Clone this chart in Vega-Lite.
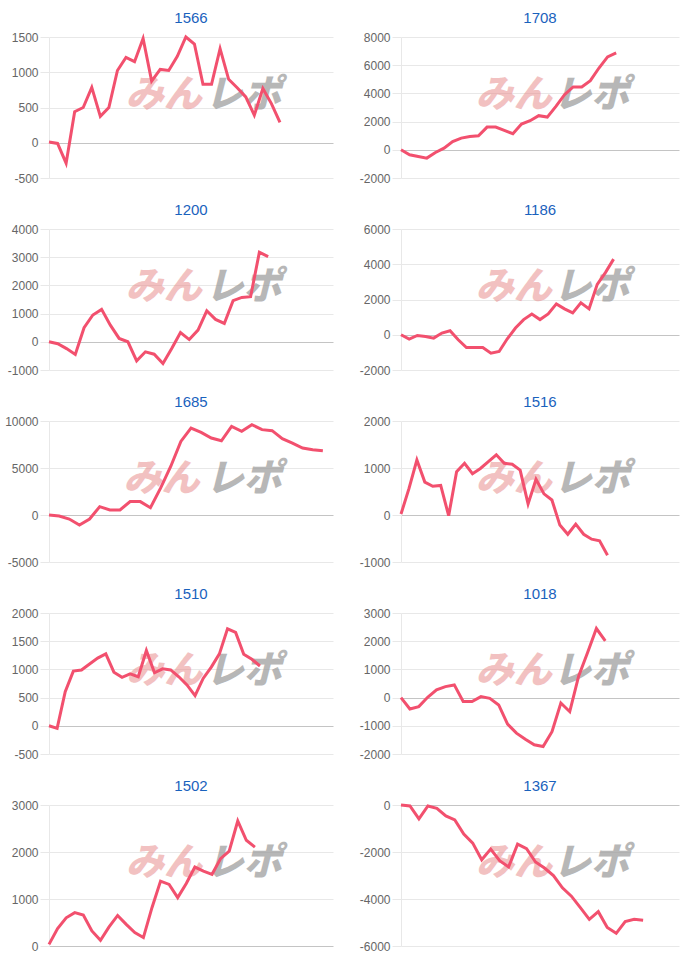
{
  "$schema": "https://vega.github.io/schema/vega-lite/v6.json",
  "padding": {"left": 4, "top": 11, "right": 12, "bottom": 4},
  "background": "white",
  "config": {
    "view": {"stroke": null},
    "font": "Liberation Sans",
    "title": {"fontSize": 15, "fontWeight": "normal", "color": "#1a62bd", "font": "Liberation Sans", "anchor": "middle", "frame": "group", "offset": 5},
    "axisY": {
      "domainColor": "#e8e8e8",
      "gridColor": {"condition": {"test": "datum.value === 0", "value": "#c4c4c4"}, "value": "#e8e8e8"},
      "tickColor": "#e8e8e8", "tickSize": 9, "labelPadding": 2,
      "labelColor": "#666666", "labelFontSize": 12, "labelFont": "Liberation Sans",
      "labelExpr": "'' + datum.value",
      "minExtent": 40, "maxExtent": 40, "title": null
    }
  },
  "datasets": {
    "d": [
      {"c":"1566","i":0,"v":10},{"c":"1566","i":1,"v":-10},{"c":"1566","i":2,"v":-290},{"c":"1566","i":3,"v":440},{"c":"1566","i":4,"v":500},{"c":"1566","i":5,"v":785},{"c":"1566","i":6,"v":375},{"c":"1566","i":7,"v":500},{"c":"1566","i":8,"v":1025},{"c":"1566","i":9,"v":1210},{"c":"1566","i":10,"v":1150},{"c":"1566","i":11,"v":1480},{"c":"1566","i":12,"v":875},{"c":"1566","i":13,"v":1040},{"c":"1566","i":14,"v":1025},{"c":"1566","i":15,"v":1225},{"c":"1566","i":16,"v":1500},{"c":"1566","i":17,"v":1400},{"c":"1566","i":18,"v":830},{"c":"1566","i":19,"v":830},{"c":"1566","i":20,"v":1335},{"c":"1566","i":21,"v":900},{"c":"1566","i":22,"v":780},{"c":"1566","i":23,"v":650},{"c":"1566","i":24,"v":390},{"c":"1566","i":25,"v":770},{"c":"1566","i":26,"v":555},{"c":"1566","i":27,"v":290},
      {"c":"1708","i":0,"v":0},{"c":"1708","i":1,"v":-355},{"c":"1708","i":2,"v":-475},{"c":"1708","i":3,"v":-590},{"c":"1708","i":4,"v":-190},{"c":"1708","i":5,"v":120},{"c":"1708","i":6,"v":590},{"c":"1708","i":7,"v":830},{"c":"1708","i":8,"v":950},{"c":"1708","i":9,"v":1000},{"c":"1708","i":10,"v":1610},{"c":"1708","i":11,"v":1610},{"c":"1708","i":12,"v":1375},{"c":"1708","i":13,"v":1140},{"c":"1708","i":14,"v":1825},{"c":"1708","i":15,"v":2060},{"c":"1708","i":16,"v":2420},{"c":"1708","i":17,"v":2320},{"c":"1708","i":18,"v":3080},{"c":"1708","i":19,"v":3910},{"c":"1708","i":20,"v":4455},{"c":"1708","i":21,"v":4455},{"c":"1708","i":22,"v":4900},{"c":"1708","i":23,"v":5800},{"c":"1708","i":24,"v":6590},{"c":"1708","i":25,"v":6870},
      {"c":"1200","i":0,"v":0},{"c":"1200","i":1,"v":-70},{"c":"1200","i":2,"v":-240},{"c":"1200","i":3,"v":-450},{"c":"1200","i":4,"v":500},{"c":"1200","i":5,"v":950},{"c":"1200","i":6,"v":1150},{"c":"1200","i":7,"v":590},{"c":"1200","i":8,"v":120},{"c":"1200","i":9,"v":0},{"c":"1200","i":10,"v":-675},{"c":"1200","i":11,"v":-355},{"c":"1200","i":12,"v":-440},{"c":"1200","i":13,"v":-770},{"c":"1200","i":14,"v":-240},{"c":"1200","i":15,"v":330},{"c":"1200","i":16,"v":80},{"c":"1200","i":17,"v":415},{"c":"1200","i":18,"v":1100},{"c":"1200","i":19,"v":795},{"c":"1200","i":20,"v":650},{"c":"1200","i":21,"v":1460},{"c":"1200","i":22,"v":1575},{"c":"1200","i":23,"v":1600},{"c":"1200","i":24,"v":3175},{"c":"1200","i":25,"v":3020},
      {"c":"1186","i":0,"v":0},{"c":"1186","i":1,"v":-250},{"c":"1186","i":2,"v":-40},{"c":"1186","i":3,"v":-95},{"c":"1186","i":4,"v":-190},{"c":"1186","i":5,"v":95},{"c":"1186","i":6,"v":230},{"c":"1186","i":7,"v":-285},{"c":"1186","i":8,"v":-725},{"c":"1186","i":9,"v":-725},{"c":"1186","i":10,"v":-725},{"c":"1186","i":11,"v":-1050},{"c":"1186","i":12,"v":-950},{"c":"1186","i":13,"v":-230},{"c":"1186","i":14,"v":380},{"c":"1186","i":15,"v":860},{"c":"1186","i":16,"v":1180},{"c":"1186","i":17,"v":860},{"c":"1186","i":18,"v":1180},{"c":"1186","i":19,"v":1750},{"c":"1186","i":20,"v":1470},{"c":"1186","i":21,"v":1240},{"c":"1186","i":22,"v":1810},{"c":"1186","i":23,"v":1470},{"c":"1186","i":24,"v":2860},{"c":"1186","i":25,"v":3525},{"c":"1186","i":26,"v":4290},
      {"c":"1685","i":0,"v":0},{"c":"1685","i":1,"v":-110},{"c":"1685","i":2,"v":-430},{"c":"1685","i":3,"v":-1070},{"c":"1685","i":4,"v":-430},{"c":"1685","i":5,"v":890},{"c":"1685","i":6,"v":535},{"c":"1685","i":7,"v":535},{"c":"1685","i":8,"v":1425},{"c":"1685","i":9,"v":1425},{"c":"1685","i":10,"v":780},{"c":"1685","i":11,"v":2850},{"c":"1685","i":12,"v":5160},{"c":"1685","i":13,"v":7830},{"c":"1685","i":14,"v":9250},{"c":"1685","i":15,"v":8790},{"c":"1685","i":16,"v":8190},{"c":"1685","i":17,"v":7900},{"c":"1685","i":18,"v":9430},{"c":"1685","i":19,"v":8900},{"c":"1685","i":20,"v":9610},{"c":"1685","i":21,"v":9080},{"c":"1685","i":22,"v":8970},{"c":"1685","i":23,"v":8120},{"c":"1685","i":24,"v":7650},{"c":"1685","i":25,"v":7120},{"c":"1685","i":26,"v":6940},{"c":"1685","i":27,"v":6830},
      {"c":"1516","i":0,"v":20},{"c":"1516","i":1,"v":560},{"c":"1516","i":2,"v":1170},{"c":"1516","i":3,"v":700},{"c":"1516","i":4,"v":610},{"c":"1516","i":5,"v":630},{"c":"1516","i":6,"v":-15},{"c":"1516","i":7,"v":920},{"c":"1516","i":8,"v":1100},{"c":"1516","i":9,"v":880},{"c":"1516","i":10,"v":990},{"c":"1516","i":11,"v":1135},{"c":"1516","i":12,"v":1280},{"c":"1516","i":13,"v":1100},{"c":"1516","i":14,"v":1080},{"c":"1516","i":15,"v":955},{"c":"1516","i":16,"v":235},{"c":"1516","i":17,"v":760},{"c":"1516","i":18,"v":450},{"c":"1516","i":19,"v":320},{"c":"1516","i":20,"v":-215},{"c":"1516","i":21,"v":-410},{"c":"1516","i":22,"v":-195},{"c":"1516","i":23,"v":-410},{"c":"1516","i":24,"v":-515},{"c":"1516","i":25,"v":-550},{"c":"1516","i":26,"v":-855},
      {"c":"1510","i":0,"v":0},{"c":"1510","i":1,"v":-45},{"c":"1510","i":2,"v":605},{"c":"1510","i":3,"v":970},{"c":"1510","i":4,"v":990},{"c":"1510","i":5,"v":1095},{"c":"1510","i":6,"v":1200},{"c":"1510","i":7,"v":1275},{"c":"1510","i":8,"v":950},{"c":"1510","i":9,"v":860},{"c":"1510","i":10,"v":920},{"c":"1510","i":11,"v":870},{"c":"1510","i":12,"v":1335},{"c":"1510","i":13,"v":940},{"c":"1510","i":14,"v":1010},{"c":"1510","i":15,"v":990},{"c":"1510","i":16,"v":870},{"c":"1510","i":17,"v":725},{"c":"1510","i":18,"v":535},{"c":"1510","i":19,"v":840},{"c":"1510","i":20,"v":1040},{"c":"1510","i":21,"v":1275},{"c":"1510","i":22,"v":1720},{"c":"1510","i":23,"v":1655},{"c":"1510","i":24,"v":1270},{"c":"1510","i":25,"v":1180},{"c":"1510","i":26,"v":1060},
      {"c":"1018","i":0,"v":0},{"c":"1018","i":1,"v":-405},{"c":"1018","i":2,"v":-320},{"c":"1018","i":3,"v":10},{"c":"1018","i":4,"v":275},{"c":"1018","i":5,"v":390},{"c":"1018","i":6,"v":450},{"c":"1018","i":7,"v":-140},{"c":"1018","i":8,"v":-140},{"c":"1018","i":9,"v":35},{"c":"1018","i":10,"v":-25},{"c":"1018","i":11,"v":-260},{"c":"1018","i":12,"v":-940},{"c":"1018","i":13,"v":-1260},{"c":"1018","i":14,"v":-1475},{"c":"1018","i":15,"v":-1675},{"c":"1018","i":16,"v":-1735},{"c":"1018","i":17,"v":-1210},{"c":"1018","i":18,"v":-190},{"c":"1018","i":19,"v":-500},{"c":"1018","i":20,"v":760},{"c":"1018","i":21,"v":1590},{"c":"1018","i":22,"v":2450},{"c":"1018","i":23,"v":2010},
      {"c":"1502","i":0,"v":35},{"c":"1502","i":1,"v":370},{"c":"1502","i":2,"v":600},{"c":"1502","i":3,"v":710},{"c":"1502","i":4,"v":660},{"c":"1502","i":5,"v":320},{"c":"1502","i":6,"v":120},{"c":"1502","i":7,"v":405},{"c":"1502","i":8,"v":650},{"c":"1502","i":9,"v":460},{"c":"1502","i":10,"v":285},{"c":"1502","i":11,"v":180},{"c":"1502","i":12,"v":815},{"c":"1502","i":13,"v":1380},{"c":"1502","i":14,"v":1310},{"c":"1502","i":15,"v":1030},{"c":"1502","i":16,"v":1330},{"c":"1502","i":17,"v":1680},{"c":"1502","i":18,"v":1595},{"c":"1502","i":19,"v":1525},{"c":"1502","i":20,"v":1860},{"c":"1502","i":21,"v":2020},{"c":"1502","i":22,"v":2660},{"c":"1502","i":23,"v":2250},{"c":"1502","i":24,"v":2105},
      {"c":"1367","i":0,"v":0},{"c":"1367","i":1,"v":-40},{"c":"1367","i":2,"v":-590},{"c":"1367","i":3,"v":-40},{"c":"1367","i":4,"v":-140},{"c":"1367","i":5,"v":-465},{"c":"1367","i":6,"v":-635},{"c":"1367","i":7,"v":-1240},{"c":"1367","i":8,"v":-1620},{"c":"1367","i":9,"v":-2330},{"c":"1367","i":10,"v":-1875},{"c":"1367","i":11,"v":-2370},{"c":"1367","i":12,"v":-2635},{"c":"1367","i":13,"v":-1665},{"c":"1367","i":14,"v":-1860},{"c":"1367","i":15,"v":-2425},{"c":"1367","i":16,"v":-2680},{"c":"1367","i":17,"v":-3000},{"c":"1367","i":18,"v":-3525},{"c":"1367","i":19,"v":-3880},{"c":"1367","i":20,"v":-4370},{"c":"1367","i":21,"v":-4865},{"c":"1367","i":22,"v":-4540},{"c":"1367","i":23,"v":-5215},{"c":"1367","i":24,"v":-5460},{"c":"1367","i":25,"v":-4960},{"c":"1367","i":26,"v":-4865},{"c":"1367","i":27,"v":-4905}
    ]
  },
  "data": {"name": "d"},
  "spacing": 19,
  "vconcat": [
    {"hconcat": [
      {"title": "1566", "width": 284, "height": 141, "transform": [{"filter": "datum.c == '1566'"}],
       "encoding": {"x": {"field": "i", "type": "quantitative", "axis": null, "scale": {"domain": [0, 33.2], "nice": false, "zero": false}},
                    "y": {"field": "v", "type": "quantitative", "scale": {"domain": [-500, 1500], "nice": false}, "axis": {"values": [-500, 0, 500, 1000, 1500]}}},
       "layer": [
         {"transform": [{"filter": "datum.i == 0"}], "mark": {"type": "text", "text": "みん", "font": "Noto Sans CJK JP", "fontSize": 38, "fontWeight": 900, "fontStyle": "italic", "color": "#e88f8f", "opacity": 0.55, "align": "center", "baseline": "middle"}, "encoding": {"x": {"datum": 13.4, "type": "quantitative"}, "y": {"datum": 660, "type": "quantitative"}}},
         {"transform": [{"filter": "datum.i == 0"}], "mark": {"type": "text", "text": "レポ", "font": "Noto Sans CJK JP", "fontSize": 38, "fontWeight": 900, "fontStyle": "italic", "color": "#999999", "opacity": 0.7, "align": "center", "baseline": "middle"}, "encoding": {"x": {"datum": 22.7, "type": "quantitative"}, "y": {"datum": 660, "type": "quantitative"}}},
         {"mark": {"type": "line", "color": "#f2506e", "strokeWidth": 3, "strokeJoin": "miter"}}
       ]},
      {"title": "1708", "width": 278, "height": 141, "transform": [{"filter": "datum.c == '1708'"}],
       "encoding": {"x": {"field": "i", "type": "quantitative", "axis": null, "scale": {"domain": [0, 32.3], "nice": false, "zero": false}},
                    "y": {"field": "v", "type": "quantitative", "scale": {"domain": [-2000, 8000], "nice": false}, "axis": {"values": [-2000, 0, 2000, 4000, 6000, 8000]}}},
       "layer": [
         {"transform": [{"filter": "datum.i == 0"}], "mark": {"type": "text", "text": "みん", "font": "Noto Sans CJK JP", "fontSize": 38, "fontWeight": 900, "fontStyle": "italic", "color": "#e88f8f", "opacity": 0.55, "align": "center", "baseline": "middle"}, "encoding": {"x": {"datum": 13.1, "type": "quantitative"}, "y": {"datum": 3800, "type": "quantitative"}}},
         {"transform": [{"filter": "datum.i == 0"}], "mark": {"type": "text", "text": "レポ", "font": "Noto Sans CJK JP", "fontSize": 38, "fontWeight": 900, "fontStyle": "italic", "color": "#999999", "opacity": 0.7, "align": "center", "baseline": "middle"}, "encoding": {"x": {"datum": 22.1, "type": "quantitative"}, "y": {"datum": 3800, "type": "quantitative"}}},
         {"mark": {"type": "line", "color": "#f2506e", "strokeWidth": 3, "strokeJoin": "miter"}}
       ]}
    ], "spacing": 26},
    {"hconcat": [
      {"title": "1200", "width": 284, "height": 141, "transform": [{"filter": "datum.c == '1200'"}],
       "encoding": {"x": {"field": "i", "type": "quantitative", "axis": null, "scale": {"domain": [0, 32.4], "nice": false, "zero": false}},
                    "y": {"field": "v", "type": "quantitative", "scale": {"domain": [-1000, 4000], "nice": false}, "axis": {"values": [-1000, 0, 1000, 2000, 3000, 4000]}}},
       "layer": [
         {"transform": [{"filter": "datum.i == 0"}], "mark": {"type": "text", "text": "みん", "font": "Noto Sans CJK JP", "fontSize": 38, "fontWeight": 900, "fontStyle": "italic", "color": "#e88f8f", "opacity": 0.55, "align": "center", "baseline": "middle"}, "encoding": {"x": {"datum": 13.1, "type": "quantitative"}, "y": {"datum": 1900, "type": "quantitative"}}},
         {"transform": [{"filter": "datum.i == 0"}], "mark": {"type": "text", "text": "レポ", "font": "Noto Sans CJK JP", "fontSize": 38, "fontWeight": 900, "fontStyle": "italic", "color": "#999999", "opacity": 0.7, "align": "center", "baseline": "middle"}, "encoding": {"x": {"datum": 22.2, "type": "quantitative"}, "y": {"datum": 1900, "type": "quantitative"}}},
         {"mark": {"type": "line", "color": "#f2506e", "strokeWidth": 3, "strokeJoin": "miter"}}
       ]},
      {"title": "1186", "width": 278, "height": 141, "transform": [{"filter": "datum.c == '1186'"}],
       "encoding": {"x": {"field": "i", "type": "quantitative", "axis": null, "scale": {"domain": [0, 34], "nice": false, "zero": false}},
                    "y": {"field": "v", "type": "quantitative", "scale": {"domain": [-2000, 6000], "nice": false}, "axis": {"values": [-2000, 0, 2000, 4000, 6000]}}},
       "layer": [
         {"transform": [{"filter": "datum.i == 0"}], "mark": {"type": "text", "text": "みん", "font": "Noto Sans CJK JP", "fontSize": 38, "fontWeight": 900, "fontStyle": "italic", "color": "#e88f8f", "opacity": 0.55, "align": "center", "baseline": "middle"}, "encoding": {"x": {"datum": 13.8, "type": "quantitative"}, "y": {"datum": 2640, "type": "quantitative"}}},
         {"transform": [{"filter": "datum.i == 0"}], "mark": {"type": "text", "text": "レポ", "font": "Noto Sans CJK JP", "fontSize": 38, "fontWeight": 900, "fontStyle": "italic", "color": "#999999", "opacity": 0.7, "align": "center", "baseline": "middle"}, "encoding": {"x": {"datum": 23.3, "type": "quantitative"}, "y": {"datum": 2640, "type": "quantitative"}}},
         {"mark": {"type": "line", "color": "#f2506e", "strokeWidth": 3, "strokeJoin": "miter"}}
       ]}
    ], "spacing": 26},
    {"hconcat": [
      {"title": "1685", "width": 284, "height": 141, "transform": [{"filter": "datum.c == '1685'"}],
       "encoding": {"x": {"field": "i", "type": "quantitative", "axis": null, "scale": {"domain": [0, 28], "nice": false, "zero": false}},
                    "y": {"field": "v", "type": "quantitative", "scale": {"domain": [-5000, 10000], "nice": false}, "axis": {"values": [-5000, 0, 5000, 10000]}}},
       "layer": [
         {"transform": [{"filter": "datum.i == 0"}], "mark": {"type": "text", "text": "みん", "font": "Noto Sans CJK JP", "fontSize": 38, "fontWeight": 900, "fontStyle": "italic", "color": "#e88f8f", "opacity": 0.55, "align": "center", "baseline": "middle"}, "encoding": {"x": {"datum": 11.1, "type": "quantitative"}, "y": {"datum": 3700, "type": "quantitative"}}},
         {"transform": [{"filter": "datum.i == 0"}], "mark": {"type": "text", "text": "レポ", "font": "Noto Sans CJK JP", "fontSize": 38, "fontWeight": 900, "fontStyle": "italic", "color": "#999999", "opacity": 0.7, "align": "center", "baseline": "middle"}, "encoding": {"x": {"datum": 19.2, "type": "quantitative"}, "y": {"datum": 3700, "type": "quantitative"}}},
         {"mark": {"type": "line", "color": "#f2506e", "strokeWidth": 3, "strokeJoin": "miter"}}
       ]},
      {"title": "1516", "width": 278, "height": 141, "transform": [{"filter": "datum.c == '1516'"}],
       "encoding": {"x": {"field": "i", "type": "quantitative", "axis": null, "scale": {"domain": [0, 35], "nice": false, "zero": false}},
                    "y": {"field": "v", "type": "quantitative", "scale": {"domain": [-1000, 2000], "nice": false}, "axis": {"values": [-1000, 0, 1000, 2000]}}},
       "layer": [
         {"transform": [{"filter": "datum.i == 0"}], "mark": {"type": "text", "text": "みん", "font": "Noto Sans CJK JP", "fontSize": 38, "fontWeight": 900, "fontStyle": "italic", "color": "#e88f8f", "opacity": 0.55, "align": "center", "baseline": "middle"}, "encoding": {"x": {"datum": 14.2, "type": "quantitative"}, "y": {"datum": 740, "type": "quantitative"}}},
         {"transform": [{"filter": "datum.i == 0"}], "mark": {"type": "text", "text": "レポ", "font": "Noto Sans CJK JP", "fontSize": 38, "fontWeight": 900, "fontStyle": "italic", "color": "#999999", "opacity": 0.7, "align": "center", "baseline": "middle"}, "encoding": {"x": {"datum": 24.0, "type": "quantitative"}, "y": {"datum": 740, "type": "quantitative"}}},
         {"mark": {"type": "line", "color": "#f2506e", "strokeWidth": 3, "strokeJoin": "miter"}}
       ]}
    ], "spacing": 26},
    {"hconcat": [
      {"title": "1510", "width": 284, "height": 141, "transform": [{"filter": "datum.c == '1510'"}],
       "encoding": {"x": {"field": "i", "type": "quantitative", "axis": null, "scale": {"domain": [0, 35], "nice": false, "zero": false}},
                    "y": {"field": "v", "type": "quantitative", "scale": {"domain": [-500, 2000], "nice": false}, "axis": {"values": [-500, 0, 500, 1000, 1500, 2000]}}},
       "layer": [
         {"transform": [{"filter": "datum.i == 0"}], "mark": {"type": "text", "text": "みん", "font": "Noto Sans CJK JP", "fontSize": 38, "fontWeight": 900, "fontStyle": "italic", "color": "#e88f8f", "opacity": 0.55, "align": "center", "baseline": "middle"}, "encoding": {"x": {"datum": 14.2, "type": "quantitative"}, "y": {"datum": 950, "type": "quantitative"}}},
         {"transform": [{"filter": "datum.i == 0"}], "mark": {"type": "text", "text": "レポ", "font": "Noto Sans CJK JP", "fontSize": 38, "fontWeight": 900, "fontStyle": "italic", "color": "#999999", "opacity": 0.7, "align": "center", "baseline": "middle"}, "encoding": {"x": {"datum": 24.0, "type": "quantitative"}, "y": {"datum": 950, "type": "quantitative"}}},
         {"mark": {"type": "line", "color": "#f2506e", "strokeWidth": 3, "strokeJoin": "miter"}}
       ]},
      {"title": "1018", "width": 278, "height": 141, "transform": [{"filter": "datum.c == '1018'"}],
       "encoding": {"x": {"field": "i", "type": "quantitative", "axis": null, "scale": {"domain": [0, 31.3], "nice": false, "zero": false}},
                    "y": {"field": "v", "type": "quantitative", "scale": {"domain": [-2000, 3000], "nice": false}, "axis": {"values": [-2000, -1000, 0, 1000, 2000, 3000]}}},
       "layer": [
         {"transform": [{"filter": "datum.i == 0"}], "mark": {"type": "text", "text": "みん", "font": "Noto Sans CJK JP", "fontSize": 38, "fontWeight": 900, "fontStyle": "italic", "color": "#e88f8f", "opacity": 0.55, "align": "center", "baseline": "middle"}, "encoding": {"x": {"datum": 12.7, "type": "quantitative"}, "y": {"datum": 900, "type": "quantitative"}}},
         {"transform": [{"filter": "datum.i == 0"}], "mark": {"type": "text", "text": "レポ", "font": "Noto Sans CJK JP", "fontSize": 38, "fontWeight": 900, "fontStyle": "italic", "color": "#999999", "opacity": 0.7, "align": "center", "baseline": "middle"}, "encoding": {"x": {"datum": 21.4, "type": "quantitative"}, "y": {"datum": 900, "type": "quantitative"}}},
         {"mark": {"type": "line", "color": "#f2506e", "strokeWidth": 3, "strokeJoin": "miter"}}
       ]}
    ], "spacing": 26},
    {"hconcat": [
      {"title": "1502", "width": 284, "height": 141, "transform": [{"filter": "datum.c == '1502'"}],
       "encoding": {"x": {"field": "i", "type": "quantitative", "axis": null, "scale": {"domain": [0, 33.1], "nice": false, "zero": false}},
                    "y": {"field": "v", "type": "quantitative", "scale": {"domain": [0, 3000], "nice": false}, "axis": {"values": [0, 1000, 2000, 3000]}}},
       "layer": [
         {"transform": [{"filter": "datum.i == 0"}], "mark": {"type": "text", "text": "みん", "font": "Noto Sans CJK JP", "fontSize": 38, "fontWeight": 900, "fontStyle": "italic", "color": "#e88f8f", "opacity": 0.55, "align": "center", "baseline": "middle"}, "encoding": {"x": {"datum": 13.4, "type": "quantitative"}, "y": {"datum": 1740, "type": "quantitative"}}},
         {"transform": [{"filter": "datum.i == 0"}], "mark": {"type": "text", "text": "レポ", "font": "Noto Sans CJK JP", "fontSize": 38, "fontWeight": 900, "fontStyle": "italic", "color": "#999999", "opacity": 0.7, "align": "center", "baseline": "middle"}, "encoding": {"x": {"datum": 22.7, "type": "quantitative"}, "y": {"datum": 1740, "type": "quantitative"}}},
         {"mark": {"type": "line", "color": "#f2506e", "strokeWidth": 3, "strokeJoin": "miter"}}
       ]},
      {"title": "1367", "width": 278, "height": 141, "transform": [{"filter": "datum.c == '1367'"}],
       "encoding": {"x": {"field": "i", "type": "quantitative", "axis": null, "scale": {"domain": [0, 31], "nice": false, "zero": false}},
                    "y": {"field": "v", "type": "quantitative", "scale": {"domain": [-6000, 0], "nice": false}, "axis": {"values": [-6000, -4000, -2000, 0]}}},
       "layer": [
         {"transform": [{"filter": "datum.i == 0"}], "mark": {"type": "text", "text": "みん", "font": "Noto Sans CJK JP", "fontSize": 38, "fontWeight": 900, "fontStyle": "italic", "color": "#e88f8f", "opacity": 0.55, "align": "center", "baseline": "middle"}, "encoding": {"x": {"datum": 12.6, "type": "quantitative"}, "y": {"datum": -2520, "type": "quantitative"}}},
         {"transform": [{"filter": "datum.i == 0"}], "mark": {"type": "text", "text": "レポ", "font": "Noto Sans CJK JP", "fontSize": 38, "fontWeight": 900, "fontStyle": "italic", "color": "#999999", "opacity": 0.7, "align": "center", "baseline": "middle"}, "encoding": {"x": {"datum": 21.2, "type": "quantitative"}, "y": {"datum": -2520, "type": "quantitative"}}},
         {"mark": {"type": "line", "color": "#f2506e", "strokeWidth": 3, "strokeJoin": "miter"}}
       ]}
    ], "spacing": 26}
  ],
  "resolve": {"scale": {"x": "independent", "y": "independent"}}
}
